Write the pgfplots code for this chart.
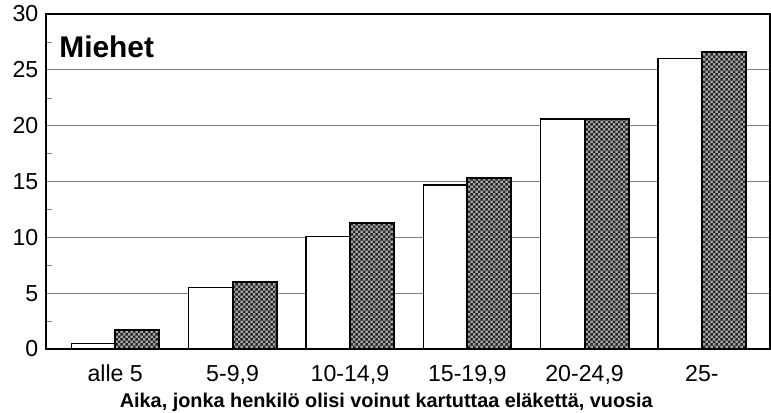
\documentclass[border=0pt]{standalone}
\usepackage{fontspec}
\setmainfont{Liberation Sans}
\usepackage{pgfplots}
\pgfplotsset{compat=1.18}
\usetikzlibrary{patterns}
\pgfdeclarepatternformonly{finecheck}{\pgfqpoint{0pt}{0pt}}{\pgfqpoint{2.8pt}{2.8pt}}{\pgfqpoint{2.8pt}{2.8pt}}{%
  \pgfpathrectangle{\pgfqpoint{0pt}{0pt}}{\pgfqpoint{1.4pt}{1.4pt}}%
  \pgfpathrectangle{\pgfqpoint{1.4pt}{1.4pt}}{\pgfqpoint{1.4pt}{1.4pt}}%
  \pgfusepath{fill}%
}
\newcommand{\tlfont}{\fontsize{12}{14}\selectfont}
\begin{document}
\begin{tikzpicture}
\begin{axis}[
  name=ax,
  scale only axis,
  width=375.6pt, height=173.8pt,
  xmin=-0.59, xmax=5.58, ymin=0, ymax=30,
  xtick={0,1,2,3,4,5},
  xticklabels={{\tlfont alle 5},{\tlfont 5-9,9},{\tlfont 10-14,9},{\tlfont 15-19,9},{\tlfont 20-24,9},{\tlfont 25-}},
  major x tick style={draw=none},
  ytick={0,5,10,15,20,25,30},
  yticklabels={{\tlfont 0},{\tlfont 5},{\tlfont 10},{\tlfont 15},{\tlfont 20},{\tlfont 25},{\tlfont 30}},
  minor ytick={2.5,7.5,12.5,17.5,22.5,27.5},
  major y tick style={draw=none},
  minor tick length=3pt,
  tick align=inside,
  ytick pos=left,
  xtick pos=bottom,
  ymajorgrids,
  grid style={black!50, line width=0.45pt},
  axis line style={black, line width=0.8pt},
  /pgf/number format/assume math mode=true,
  xticklabel style={anchor=base, yshift=-17.1pt},
  yticklabel style={xshift=-0.5pt},
  xlabel={\bfseries Aika, jonka henkilö olisi voinut kartuttaa eläkettä, vuosia},
  xlabel style={font=\fontsize{10.3}{12}\selectfont, at={(axis description cs:0.47,0)}, anchor=base, yshift=-30.4pt},
  clip=false,
]
\addplot[ybar, bar width=0.375, bar shift=-0.1875, draw=black, line width=0.7pt, fill=white]
  coordinates {(0,0.5) (1,5.5) (2,10.05) (3,14.7) (4,20.6) (5,26.0)};
\addplot[ybar, bar width=0.375, bar shift=0.1875, draw=black, line width=1pt, fill=black!35, postaction={pattern=finecheck, pattern color=black!85}]
  coordinates {(0,1.7) (1,6.0) (2,11.3) (3,15.3) (4,20.6) (5,26.6)};
\node[anchor=base west, inner sep=0pt, font=\bfseries\fontsize{15.5}{18}\selectfont] at (rel axis cs:0.018,0.869) {Miehet};
\end{axis}
\pgfresetboundingbox
\path ([shift={(-23.87pt,-32.7pt)}]ax.south west) rectangle ([shift={(0.52pt,7.26pt)}]ax.north east);
\end{tikzpicture}
\end{document}
